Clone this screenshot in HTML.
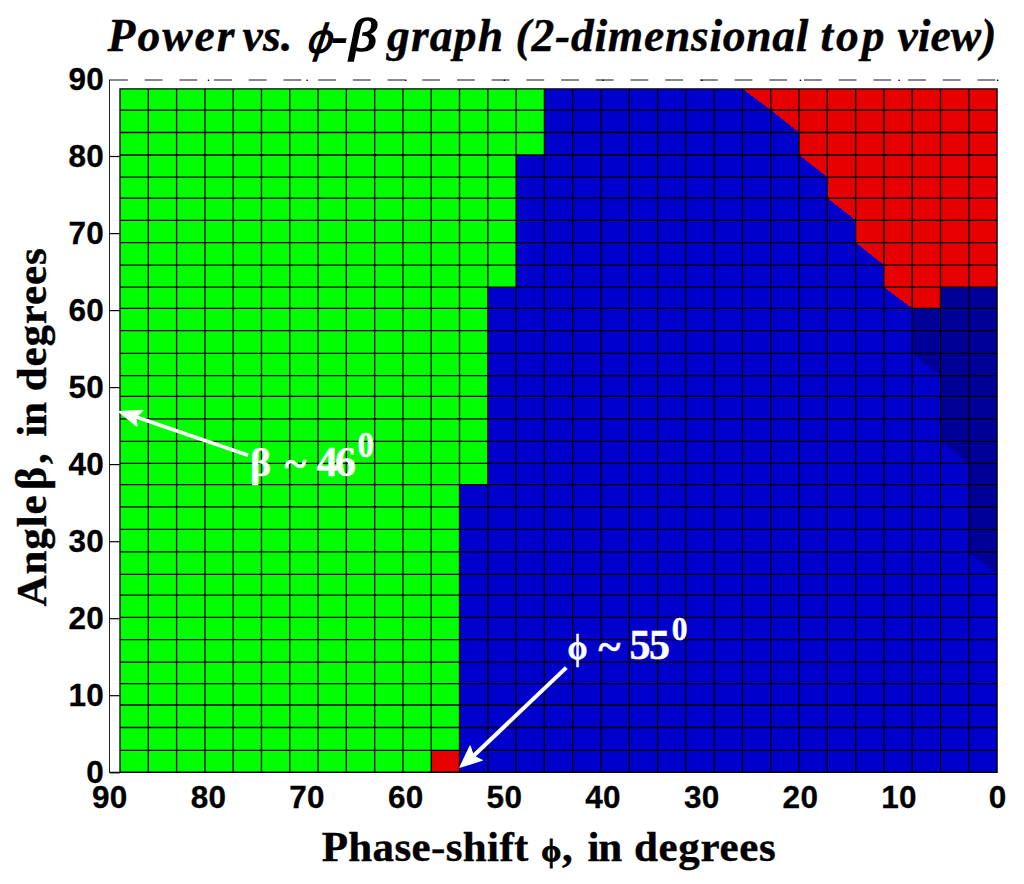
<!DOCTYPE html>
<html><head><meta charset="utf-8"><title>Power vs phi-beta graph</title>
<style>
html,body{margin:0;padding:0;background:#fff;}
body{width:1024px;height:884px;overflow:hidden;}
svg{display:block;}
text{white-space:pre;}
.tk{font-family:"Liberation Sans",sans-serif;font-weight:bold;font-size:31.5px;letter-spacing:0.3px;fill:#000;stroke:#000;stroke-width:0.3px;}
.ti{font-family:"Liberation Serif",serif;font-weight:bold;font-style:italic;font-size:45.5px;fill:#000;stroke:#000;stroke-width:0.4px;}
.lb{font-family:"Liberation Serif",serif;font-weight:bold;font-size:43px;fill:#000;stroke:#000;stroke-width:0.4px;}
.an{font-family:"Liberation Serif",serif;font-weight:bold;font-size:42px;fill:#fff;stroke:#fff;stroke-width:0.5px;}
</style></head><body>
<svg width="1024" height="884" viewBox="0 0 1024 884">
<rect width="1024" height="884" fill="#fff"/>
<g shape-rendering="crispEdges">
<rect x="120.00" y="88.80" width="877.10" height="683.50" fill="#0000cc"/>
<rect x="120.00" y="88.80" width="424.40" height="21.30" fill="#00ff00"/>
<rect x="120.00" y="110.10" width="424.40" height="22.40" fill="#00ff00"/>
<rect x="120.00" y="132.50" width="424.40" height="22.50" fill="#00ff00"/>
<rect x="120.00" y="155.00" width="396.11" height="22.10" fill="#00ff00"/>
<rect x="120.00" y="177.10" width="396.11" height="21.00" fill="#00ff00"/>
<rect x="120.00" y="198.10" width="396.11" height="22.20" fill="#00ff00"/>
<rect x="120.00" y="220.30" width="396.11" height="22.30" fill="#00ff00"/>
<rect x="120.00" y="242.60" width="396.11" height="22.60" fill="#00ff00"/>
<rect x="120.00" y="265.20" width="396.11" height="22.00" fill="#00ff00"/>
<rect x="120.00" y="287.20" width="367.82" height="21.20" fill="#00ff00"/>
<rect x="120.00" y="308.40" width="367.82" height="22.30" fill="#00ff00"/>
<rect x="120.00" y="330.70" width="367.82" height="22.70" fill="#00ff00"/>
<rect x="120.00" y="353.40" width="367.82" height="22.20" fill="#00ff00"/>
<rect x="120.00" y="375.60" width="367.82" height="20.80" fill="#00ff00"/>
<rect x="120.00" y="396.40" width="367.82" height="22.50" fill="#00ff00"/>
<rect x="120.00" y="418.90" width="367.82" height="22.40" fill="#00ff00"/>
<rect x="120.00" y="441.30" width="367.82" height="22.00" fill="#00ff00"/>
<rect x="120.00" y="463.30" width="367.82" height="21.30" fill="#00ff00"/>
<rect x="120.00" y="484.60" width="339.52" height="22.30" fill="#00ff00"/>
<rect x="120.00" y="506.90" width="339.52" height="22.40" fill="#00ff00"/>
<rect x="120.00" y="529.30" width="339.52" height="22.50" fill="#00ff00"/>
<rect x="120.00" y="551.80" width="339.52" height="22.50" fill="#00ff00"/>
<rect x="120.00" y="574.30" width="339.52" height="20.80" fill="#00ff00"/>
<rect x="120.00" y="595.10" width="339.52" height="22.30" fill="#00ff00"/>
<rect x="120.00" y="617.40" width="339.52" height="22.30" fill="#00ff00"/>
<rect x="120.00" y="639.70" width="339.52" height="22.40" fill="#00ff00"/>
<rect x="120.00" y="662.10" width="339.52" height="21.50" fill="#00ff00"/>
<rect x="120.00" y="683.60" width="339.52" height="21.40" fill="#00ff00"/>
<rect x="120.00" y="705.00" width="339.52" height="22.50" fill="#00ff00"/>
<rect x="120.00" y="727.50" width="339.52" height="22.90" fill="#00ff00"/>
<rect x="120.00" y="750.40" width="339.52" height="21.90" fill="#00ff00"/>
<rect x="431.23" y="750.40" width="28.29" height="21.90" fill="#e60000"/>
<rect x="770.75" y="88.80" width="226.35" height="21.30" fill="#e60000"/>
<polygon points="742.46,88.80 770.75,88.80 770.75,110.10" fill="#e60000"/>
<rect x="799.05" y="110.10" width="198.05" height="22.40" fill="#e60000"/>
<polygon points="770.75,110.10 799.05,110.10 799.05,132.50" fill="#e60000"/>
<rect x="799.05" y="132.50" width="198.05" height="22.50" fill="#e60000"/>
<rect x="827.34" y="155.00" width="169.76" height="22.10" fill="#e60000"/>
<polygon points="799.05,155.00 827.34,155.00 827.34,177.10" fill="#e60000"/>
<rect x="827.34" y="177.10" width="169.76" height="21.00" fill="#e60000"/>
<rect x="855.63" y="198.10" width="141.47" height="22.20" fill="#e60000"/>
<polygon points="827.34,198.10 855.63,198.10 855.63,220.30" fill="#e60000"/>
<rect x="855.63" y="220.30" width="141.47" height="22.30" fill="#e60000"/>
<rect x="883.93" y="242.60" width="113.17" height="22.60" fill="#e60000"/>
<polygon points="855.63,242.60 883.93,242.60 883.93,265.20" fill="#e60000"/>
<rect x="883.93" y="265.20" width="113.17" height="22.00" fill="#e60000"/>
<polygon points="883.93,287.20 912.22,287.20 912.22,308.40" fill="#e60000"/>
<rect x="912.22" y="287.20" width="28.29" height="21.20" fill="#e60000"/>
<rect x="940.51" y="287.20" width="56.59" height="21.20" fill="#000099"/>
<rect x="912.22" y="308.40" width="84.88" height="22.30" fill="#000099"/>
<rect x="912.22" y="330.70" width="84.88" height="22.70" fill="#000099"/>
<rect x="940.51" y="353.40" width="56.59" height="22.20" fill="#000099"/>
<polygon points="912.22,353.40 940.51,353.40 940.51,375.60" fill="#000099"/>
<rect x="940.51" y="375.60" width="56.59" height="20.80" fill="#000099"/>
<rect x="940.51" y="396.40" width="56.59" height="22.50" fill="#000099"/>
<rect x="940.51" y="418.90" width="56.59" height="22.40" fill="#000099"/>
<rect x="968.81" y="441.30" width="28.29" height="22.00" fill="#000099"/>
<polygon points="940.51,441.30 968.81,441.30 968.81,463.30" fill="#000099"/>
<rect x="968.81" y="463.30" width="28.29" height="21.30" fill="#000099"/>
<rect x="968.81" y="484.60" width="28.29" height="22.30" fill="#000099"/>
<rect x="968.81" y="506.90" width="28.29" height="22.40" fill="#000099"/>
<rect x="968.81" y="529.30" width="28.29" height="22.50" fill="#000099"/>
<polygon points="968.81,551.80 997.10,551.80 997.10,574.30" fill="#000099"/>
</g>
<path d="M120.00 88.80V772.30M148.29 88.80V772.30M176.59 88.80V772.30M204.88 88.80V772.30M233.17 88.80V772.30M261.47 88.80V772.30M289.76 88.80V772.30M318.05 88.80V772.30M346.35 88.80V772.30M374.64 88.80V772.30M402.94 88.80V772.30M431.23 88.80V772.30M459.52 88.80V772.30M487.82 88.80V772.30M516.11 88.80V772.30M544.40 88.80V772.30M572.70 88.80V772.30M600.99 88.80V772.30M629.28 88.80V772.30M657.58 88.80V772.30M685.87 88.80V772.30M714.16 88.80V772.30M742.46 88.80V772.30M770.75 88.80V772.30M799.05 88.80V772.30M827.34 88.80V772.30M855.63 88.80V772.30M883.93 88.80V772.30M912.22 88.80V772.30M940.51 88.80V772.30M968.81 88.80V772.30M997.10 88.80V772.30M120.00 88.80H997.10M120.00 110.10H997.10M120.00 132.50H997.10M120.00 155.00H997.10M120.00 177.10H997.10M120.00 198.10H997.10M120.00 220.30H997.10M120.00 242.60H997.10M120.00 265.20H997.10M120.00 287.20H997.10M120.00 308.40H997.10M120.00 330.70H997.10M120.00 353.40H997.10M120.00 375.60H997.10M120.00 396.40H997.10M120.00 418.90H997.10M120.00 441.30H997.10M120.00 463.30H997.10M120.00 484.60H997.10M120.00 506.90H997.10M120.00 529.30H997.10M120.00 551.80H997.10M120.00 574.30H997.10M120.00 595.10H997.10M120.00 617.40H997.10M120.00 639.70H997.10M120.00 662.10H997.10M120.00 683.60H997.10M120.00 705.00H997.10M120.00 727.50H997.10M120.00 750.40H997.10M120.00 772.30H997.10" stroke="#000" stroke-width="1.3" fill="none" stroke-linecap="square"/>
<path d="M109.5 79.5V772.3" stroke="#222" stroke-width="1" fill="none"/>
<path d="M109.5 772.3H997.1" stroke="#000" stroke-width="1.25" fill="none"/>
<path d="M110 80H998" stroke="#888" stroke-width="2" stroke-dasharray="17.8 16.9" fill="none"/>
<path d="M109.5 156.5H120.0" stroke="#000" stroke-width="1.2" fill="none"/>
<path d="M109.5 233.6H120.0" stroke="#000" stroke-width="1.2" fill="none"/>
<path d="M109.5 310.6H120.0" stroke="#000" stroke-width="1.2" fill="none"/>
<path d="M109.5 387.6H120.0" stroke="#000" stroke-width="1.2" fill="none"/>
<path d="M109.5 464.6H120.0" stroke="#000" stroke-width="1.2" fill="none"/>
<path d="M109.5 541.7H120.0" stroke="#000" stroke-width="1.2" fill="none"/>
<path d="M109.5 618.7H120.0" stroke="#000" stroke-width="1.2" fill="none"/>
<path d="M109.5 695.7H120.0" stroke="#000" stroke-width="1.2" fill="none"/>
<path d="M109.5 772.8H120.0" stroke="#000" stroke-width="1.2" fill="none"/>
<rect x="207.8" y="79.6" width="1.4" height="1.4" fill="#000"/>
<rect x="306.4" y="79.6" width="1.4" height="1.4" fill="#000"/>
<rect x="405.1" y="79.6" width="1.4" height="1.4" fill="#000"/>
<rect x="503.7" y="79.6" width="1.4" height="1.4" fill="#000"/>
<rect x="602.4" y="79.6" width="1.4" height="1.4" fill="#000"/>
<rect x="701.1" y="79.6" width="1.4" height="1.4" fill="#000"/>
<rect x="799.7" y="79.6" width="1.4" height="1.4" fill="#000"/>
<rect x="898.4" y="79.6" width="1.4" height="1.4" fill="#000"/>
<rect x="997.0" y="79.6" width="1.4" height="1.4" fill="#000"/>
<text x="104.2" y="90.0" text-anchor="end" class="tk">90</text>
<text x="109.8" y="808" text-anchor="middle" class="tk">90</text>
<text x="104.2" y="167.0" text-anchor="end" class="tk">80</text>
<text x="208.5" y="808" text-anchor="middle" class="tk">80</text>
<text x="104.2" y="244.1" text-anchor="end" class="tk">70</text>
<text x="307.1" y="808" text-anchor="middle" class="tk">70</text>
<text x="104.2" y="321.1" text-anchor="end" class="tk">60</text>
<text x="405.8" y="808" text-anchor="middle" class="tk">60</text>
<text x="104.2" y="398.1" text-anchor="end" class="tk">50</text>
<text x="504.4" y="808" text-anchor="middle" class="tk">50</text>
<text x="104.2" y="475.1" text-anchor="end" class="tk">40</text>
<text x="603.1" y="808" text-anchor="middle" class="tk">40</text>
<text x="104.2" y="552.2" text-anchor="end" class="tk">30</text>
<text x="701.8" y="808" text-anchor="middle" class="tk">30</text>
<text x="104.2" y="629.2" text-anchor="end" class="tk">20</text>
<text x="800.4" y="808" text-anchor="middle" class="tk">20</text>
<text x="104.2" y="706.2" text-anchor="end" class="tk">10</text>
<text x="899.1" y="808" text-anchor="middle" class="tk">10</text>
<text x="104.2" y="783.3" text-anchor="end" class="tk">0</text>
<text x="997.7" y="808" text-anchor="middle" class="tk">0</text>
<g id="title">
<text class="ti" x="107.6" y="51.1" style="font-size:45.5px;letter-spacing:2.0px;" >Power</text>
<text class="ti" x="242.5" y="51.1" style="font-size:45.5px;letter-spacing:0.35px;" >vs.</text>
<text transform="translate(306.3,52.6) skewX(-10) scale(0.8,1)" style="font-family:'Liberation Sans',sans-serif;font-weight:bold;font-style:italic;font-size:42.3px">ϕ</text>
<polygon points="333.2,38.2 346.6,38.2 345.6,43 332.2,43" fill="#000"/>
<text transform="translate(349.5,51.1) scale(1.2,1)" style="font-family:'Liberation Serif',serif;font-style:italic;font-size:45.5px;stroke:#000;stroke-width:1.7px">β</text>
<text class="ti" x="387.0" y="51.1" style="font-size:45.5px;letter-spacing:1.2px;" >graph</text>
<text class="ti" x="515.6" y="51.1" style="font-size:45.5px;letter-spacing:0.75px;" >(2-dimensional</text>
<text class="ti" x="820.4" y="51.1" style="font-size:45.5px;letter-spacing:2.95px;" >top</text>
<text class="ti" x="897.5" y="51.1" style="font-size:45.5px;letter-spacing:0.07px;" >view)</text>
</g>
<g id="xlabel">
<text class="lb" x="321.7" y="861.2" style="font-size:43px;letter-spacing:0.37px;" >Phase-shift</text>
<text class="lb" x="541.2" y="861.2" style="font-size:32px;stroke-width:0.9px">ϕ</text>
<text class="lb" x="562.0" y="861.2" style="font-size:43px;" >,</text>
<text class="lb" x="587.4" y="861.2" style="font-size:43px;letter-spacing:-1.0px;" >in</text>
<text class="lb" x="634.0" y="861.2" style="font-size:43px;letter-spacing:0.67px;" >degrees</text>
</g>
<g id="ylabel">
<text class="lb" transform="translate(46.4,606.6) rotate(-90)" style="font-size:43px;letter-spacing:0.95px;">Angle</text>
<text class="lb" transform="translate(46.4,489.9) rotate(-90)" style="font-size:44px;">β</text>
<text class="lb" transform="translate(46.4,464.0) rotate(-90)" style="font-size:43px;">,</text>
<text class="lb" transform="translate(46.4,436.7) rotate(-90)" style="font-size:43px;letter-spacing:-1.2px;">in</text>
<text class="lb" transform="translate(46.4,391.3) rotate(-90)" style="font-size:43px;letter-spacing:0.88px;">degrees</text>
</g>
<g id="a1">
<path d="M248 455.2L134 416.2" stroke="#fff" stroke-width="3.8" fill="none"/>
<polygon points="118.6,411.6 142.8,410.4 135.8,417.6 137,426.2" fill="#fff" stroke="#fff" stroke-width="1.2" stroke-linejoin="round"/>
<text class="an" x="249.9" y="476.0" style="font-size:40px;" >β</text>
<text class="an" x="284.5" y="478.0" style="font-size:42px;" >~</text>
<text class="an" x="316.7" y="476.0" style="font-size:42px;letter-spacing:-2.7px;" >46</text>
<text class="an" transform="translate(357.6,456.9) scale(0.93,1)" style="font-size:35.5px">0</text>
</g>
<g id="a2">
<path d="M566.3 667.6L471 758.2" stroke="#fff" stroke-width="4" fill="none"/>
<polygon points="460,767.2 470.1,746 473.4,756 482.2,760.3" fill="#fff" stroke="#fff" stroke-width="1.2" stroke-linejoin="round"/>
<text class="an" transform="translate(567.6,659.2) scale(0.88,1)" style="font-size:36.5px">ϕ</text>
<text class="an" x="598.6" y="660.7" style="font-size:42px;" >~</text>
<text class="an" x="629.4" y="659.2" style="font-size:42px;letter-spacing:-1.4px;" >55</text>
<text class="an" transform="translate(671.8,639.5) scale(0.93,1)" style="font-size:34px">0</text>
</g>
</svg>
</body></html>
